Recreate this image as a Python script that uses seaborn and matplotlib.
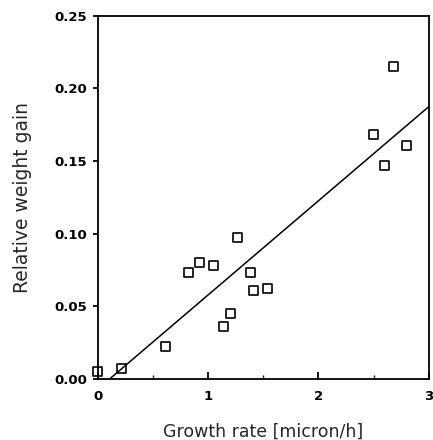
import numpy as np
import pandas as pd
import matplotlib
matplotlib.use("Agg")
import matplotlib.pyplot as plt
import seaborn as sns
from matplotlib.ticker import MultipleLocator

growth_rate = [0.0, 0.21, 0.61, 0.82, 0.92, 1.05, 1.135, 1.20, 1.27, 1.38, 1.41, 1.54, 2.50, 2.60, 2.68, 2.80]
weight_gain = [0.005, 0.007, 0.022, 0.073, 0.080, 0.078, 0.036, 0.045, 0.097, 0.073, 0.061, 0.0625, 0.168, 0.147, 0.215, 0.161]
fit_slope = 0.0648
fit_intercept = -0.007
fit_x_range = [0.108, 3.0]
x_ticks = [0, 1, 2, 3]
y_ticks = [0.00, 0.05, 0.10, 0.15, 0.20, 0.25]

sns.set_theme(style="ticks")
plt.rcParams['font.family'] = ['DejaVu Sans']

fig = plt.figure(figsize=(4.33, 4.40), dpi=100)
ax = fig.add_axes([0.226, 0.139, 0.764, 0.825])

df = pd.DataFrame({"x": growth_rate, "y": weight_gain})
sns.scatterplot(data=df, x="x", y="y", ax=ax, marker="s", s=42,
                facecolor="none", edgecolor="black", linewidth=1.2, legend=False,
                clip_on=False, zorder=3)

fx = np.array(fit_x_range)
fit_df = pd.DataFrame({"x": fx, "y": fit_slope * fx + fit_intercept})
sns.lineplot(data=fit_df, x="x", y="y", ax=ax, color="black", linewidth=1.1)

ax.set_xlim(0, 3)
ax.set_ylim(0, 0.25)
ax.set_xticks(x_ticks)
ax.set_xticklabels([str(t) for t in x_ticks], fontweight="bold")
ax.set_yticks(y_ticks)
ax.set_yticklabels([f"{t:.2f}" for t in y_ticks], fontweight="bold")
ax.xaxis.set_minor_locator(MultipleLocator(0.5))

for s in ax.spines.values():
    s.set_linewidth(1.3)
    s.set_color("black")
    s.set_visible(True)

ax.tick_params(axis="x", which="major", direction="in", length=5, width=1.3, labelsize=9.5, pad=8, colors="black")
ax.tick_params(axis="x", which="minor", direction="in", length=3, width=1.0)
ax.tick_params(axis="y", which="major", direction="out", length=3.5, width=1.3, labelsize=9.5, pad=4, colors="black")

ax.set_xlabel("Growth rate [micron/h]", fontsize=12.5, labelpad=14)
ax.set_ylabel("Relative weight gain", fontsize=13.5, labelpad=16)

fig.savefig("out.png", dpi=100)
